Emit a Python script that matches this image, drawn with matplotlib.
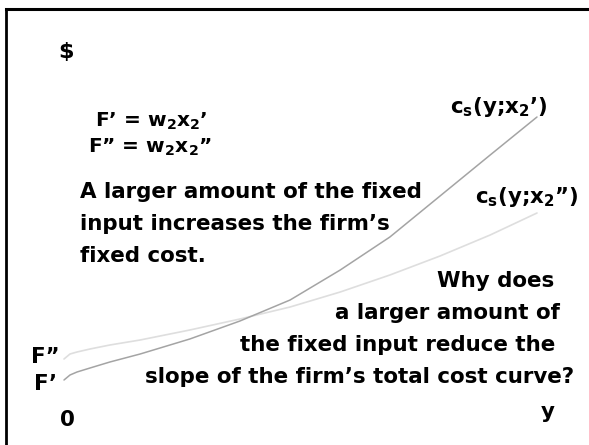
import matplotlib
matplotlib.use("Agg")
import matplotlib.pyplot as plt
from matplotlib.lines import Line2D

plt.rcParams['font.family'] = ['DejaVu Sans']
plt.rcParams['font.weight'] = 'bold'
plt.rcParams['mathtext.fontset'] = 'custom'
plt.rcParams['mathtext.rm'] = 'DejaVu Sans:bold'
plt.rcParams['mathtext.it'] = 'DejaVu Sans:bold'
plt.rcParams['mathtext.bf'] = 'DejaVu Sans:bold'
plt.rcParams['mathtext.sf'] = 'DejaVu Sans:bold'

# ---- data (output y, cost) ----
y_curve1 = [0.0, 0.127, 0.275, 0.55, 0.97, 1.61, 2.66, 3.72, 4.78, 5.84, 6.89, 7.95, 9.01, 10.0]
c_curve1 = [3.0, 3.5, 3.8, 4.2, 4.8, 5.6, 7.1, 8.9, 11.0, 14.0, 17.3, 21.4, 25.5, 29.3]
y_curve2 = [0.0, 0.127, 0.275, 0.55, 0.97, 1.61, 2.66, 3.72, 4.78, 5.84, 6.89, 7.95, 9.01, 10.0]
c_curve2 = [5.1, 5.6, 5.8, 6.1, 6.5, 7.0, 8.0, 9.1, 10.3, 11.8, 13.5, 15.4, 17.5, 19.7]

label_curve1 = r"c$_s$(y;x$_2$’)"
label_curve2 = r"c$_s$(y;x$_2$”)"
label_F1 = "F’"
label_F2 = "F”"

W, H = 589, 445
fig = plt.figure(figsize=(W / 100, H / 100), dpi=100)
ax = fig.add_axes([0, 0, 1, 1])
ax.set_xlim(-64 / 47.3, (W - 64) / 47.3)
ax.set_ylim(-3.5, 41.0)
ax.axis('off')

ax.plot(y_curve2, c_curve2, color='#dedede', lw=1.2, solid_capstyle='round')
ax.plot(y_curve1, c_curve1, color='#a4a4a4', lw=1.1, solid_capstyle='round')

# frame (top and left only)
fig.add_artist(Line2D([6 / W, 1.0], [1 - 8.5 / H, 1 - 8.5 / H], color='black', lw=2.2,
                      transform=fig.transFigure))
fig.add_artist(Line2D([6.2 / W, 6.2 / W], [0, 1 - 8.5 / H], color='black', lw=2.0,
                      transform=fig.transFigure))


def t(x, y, s, size=15.4, ha='left'):
    fig.text(x / W, 1 - y / H, s, fontsize=size, fontweight='bold', ha=ha, va='baseline',
             color='black')


t(66, 58, "$", size=16, ha='center')
t(95, 127, r"F’ = w$_2$x$_2$’", size=14.5)
t(88, 153, r"F” = w$_2$x$_2$”", size=14.5)
t(80, 198, "A larger amount of the fixed")
t(80, 230, "input increases the firm’s")
t(80, 262, "fixed cost.")
t(450, 113, label_curve1)
t(475, 203, label_curve2)
t(437, 287, "Why does")
t(335, 319, "a larger amount of")
t(240, 351, "the fixed input reduce the")
t(145, 383, "slope of the firm’s total cost curve?")
t(60, 363, label_F2, ha='right')
t(57, 390, label_F1, ha='right')
t(67, 426, "0", ha='center')
t(548, 418, "y", ha='center')

fig.savefig("out.png", dpi=100)
